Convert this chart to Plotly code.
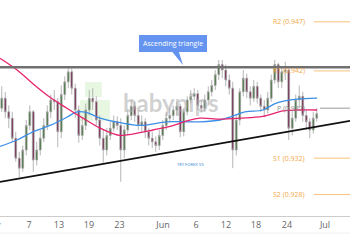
import plotly.graph_objects as go

# ---- data (prices) ----
opens = [.9375,.9386,.9371,.9364,.9342,.9320,.9309,.9329,.9356,.9371,
         .9318,.9329,.9342,.9356,.9371,.9384,.9382,.9349,.9390,.9404,
         .9415,.9397,.9373,.9345,.9356,.9373,.9386,.9382,.9362,.9342,
         .9329,.9345,.9353,.9360,.9356,.9329,.9351,.9367,.9377,.9367,
         .9356,.9360,.9349,.9342,.9338,.9334,.9345,.9356,.9364,.9367,
         .9373,.9377,.9349,.9371,.9384,.9388,.9391,.9378,.9375,.9384,
         .9393,.9400,.9412,.9423,.9417,.9406,.9397,.9329,.9362,.9393,
         .9408,.9393,.9386,.9399,.9386,.9377,.9373,.9386,.9406,.9423,
         .9404,.9415,.9417,.9353,.9364,.9384,.9388,.9367,.9360,.9351,
         .9364]
highs = [.9399,.9393,.9378,.9371,.9349,.9327,.9334,.9362,.9378,.9373,
         .9338,.9351,.9364,.9378,.9390,.9395,.9386,.9400,.9410,.9421,
         .9419,.9402,.9378,.9364,.9380,.9395,.9397,.9388,.9367,.9351,
         .9353,.9360,.9367,.9366,.9364,.9356,.9373,.9384,.9382,.9373,
         .9367,.9364,.9353,.9349,.9344,.9351,.9362,.9371,.9375,.9378,
         .9382,.9380,.9375,.9388,.9395,.9397,.9395,.9384,.9390,.9399,
         .9406,.9417,.9428,.9428,.9423,.9412,.9404,.9367,.9397,.9417,
         .9413,.9399,.9406,.9404,.9390,.9384,.9393,.9412,.9428,.9425,
         .9421,.9426,.9421,.9373,.9390,.9400,.9393,.9373,.9364,.9371,
         .9375]
lows = [.9371,.9364,.9353,.9338,.9316,.9299,.9305,.9323,.9351,.9305,
        .9312,.9323,.9338,.9351,.9364,.9373,.9332,.9342,.9384,.9397,
        .9390,.9364,.9337,.9340,.9351,.9367,.9373,.9356,.9334,.9315,
        .9323,.9340,.9349,.9351,.9294,.9320,.9345,.9362,.9360,.9351,
        .9349,.9342,.9334,.9331,.9327,.9329,.9340,.9351,.9360,.9362,
        .9367,.9343,.9344,.9367,.9380,.9384,.9373,.9370,.9371,.9378,
        .9388,.9395,.9406,.9408,.9399,.9390,.9309,.9323,.9356,.9388,
        .9386,.9378,.9382,.9380,.9371,.9365,.9369,.9382,.9402,.9397,
        .9397,.9406,.9340,.9345,.9360,.9375,.9360,.9351,.9342,.9347,
        .9360]
closes = [.9386,.9371,.9364,.9342,.9320,.9309,.9329,.9356,.9371,.9318,
          .9329,.9342,.9356,.9371,.9384,.9382,.9349,.9390,.9404,.9415,
          .9397,.9373,.9345,.9356,.9373,.9386,.9382,.9362,.9342,.9329,
          .9345,.9353,.9360,.9356,.9329,.9351,.9367,.9377,.9367,.9356,
          .9360,.9349,.9342,.9338,.9334,.9345,.9356,.9364,.9367,.9373,
          .9377,.9349,.9371,.9384,.9388,.9391,.9378,.9375,.9384,.9393,
          .9400,.9412,.9423,.9417,.9406,.9397,.9329,.9362,.9393,.9408,
          .9393,.9386,.9399,.9386,.9377,.9373,.9386,.9406,.9423,.9404,
          .9415,.9417,.9353,.9364,.9384,.9388,.9367,.9360,.9351,.9364,
          .9369]
bars = list(range(len(closes)))

pink_x = [-0.5, 4.4, 8.9, 13.8, 18.6, 23.2, 28.1, 31.8, 33.8, 39.5, 43.2,
          48.1, 52.9, 56.6, 62.4, 68.1, 74.6, 80.4, 85.2, 90.1]
pink_y = [.9430, .9417, .9402, .9387, .9375, .9364, .9353, .9347, .9345, .9348,
          .9351, .9355, .9361, .9364, .9363, .9364, .9366, .9372, .9373, .9373]
blue_x = [-0.5, 4.4, 8.9, 13.8, 18.6, 21.5, 24.4, 28.1, 33.8, 39.5, 47.2,
          52.9, 56.6, 62.4, 65.8, 69.5, 74.6, 78.1, 80.9, 84.4, 90.1]
blue_y = [.9333, .9340, .9349, .9356, .9365, .9371, .9370, .9364, .9359, .9356,
          .9360, .9360, .9360, .9362, .9366, .9371, .9373, .9380, .9383, .9385, .9386]

resistance = 0.9420
trend_x = [-0.5, 99.5]
trend_y = [0.9294, 0.9361]
levels = {"R2": 0.9470, "R1": 0.9416, "P": 0.9375, "S1": 0.9320, "S2": 0.9280}
level_labels = {"R2": "R2 (0.947)", "R1": "R1 (0.942)", "P": "P (0.937)",
                "S1": "S1 (0.932)", "S2": "S2 (0.928)"}

tick_vals = [7.79, 16.36, 24.93, 33.64, 46.07, 55.5, 64.07, 72.64, 81.5, 92.36]
tick_text = ["7", "13", "19", "23", "Jun", "6", "12", "18", "24", "Jul"]

fig = go.Figure()

# watermark logo (green cubes) and text
for (x0, x1, y0, y1) in [(0.243, 0.291, 0.551, 0.620), (0.229, 0.266, 0.440, 0.537),
                         (0.277, 0.314, 0.440, 0.537)]:
    fig.add_shape(type="rect", xref="paper", yref="paper", x0=x0, x1=x1, y0=y0, y1=y1,
                  fillcolor="rgba(175,230,155,0.3)", line=dict(width=0), layer="below")
fig.add_annotation(xref="paper", yref="paper", x=0.489, y=0.525, yanchor="middle",
                   text="<b>babypips</b>", showarrow=False,
                   font=dict(size=24, color="rgba(170,170,170,0.55)", family="Lato"))
fig.add_annotation(xref="paper", yref="paper", x=0.545, y=0.237, yanchor="middle",
                   text="TRY FOREX VS", showarrow=False,
                   font=dict(size=4, color="#4a8fd8", family="Lato"))

fig.add_trace(go.Scatter(x=trend_x, y=trend_y, mode="lines",
                         line=dict(color="#111111", width=1.8), hoverinfo="skip"))
fig.add_trace(go.Candlestick(
    x=bars, open=opens, high=highs, low=lows, close=closes,
    increasing=dict(line=dict(color="#a3a3a3", width=0.8), fillcolor="#3d7034"),
    decreasing=dict(line=dict(color="#a3a3a3", width=0.8), fillcolor="#6e1a45"),
    whiskerwidth=0))
fig.add_trace(go.Scatter(x=blue_x, y=blue_y, mode="lines", line_shape="spline",
                         line=dict(color="#3d8fe6", width=1.3), hoverinfo="skip"))
fig.add_trace(go.Scatter(x=pink_x, y=pink_y, mode="lines", line_shape="spline",
                         line=dict(color="#e6246e", width=1.3), hoverinfo="skip"))

# horizontal resistance
fig.add_shape(type="line", xref="paper", yref="y", x0=0, x1=1, y0=resistance, y1=resistance,
              line=dict(color="#707070", width=2.5))

# pivot levels
for k, v in levels.items():
    col = "#9a9a9a" if k == "P" else "#f9c27a"
    tcol = "#8a8a8a" if k == "P" else "#f3a84a"
    x0 = 0.914 if k == "P" else 0.897
    fig.add_shape(type="line", xref="paper", yref="y", x0=x0, x1=1, y0=v, y1=v,
                  line=dict(color=col, width=1))
    fig.add_annotation(xref="paper", yref="y", x=0.877, y=v, xanchor="right",
                       text=level_labels[k], showarrow=False,
                       font=dict(size=7, color=tcol, family="Open Sans"))

# callout "Ascending triangle": tail + labelled box
fig.add_shape(type="path", xref="paper", yref="paper",
              path="M 0.484,0.775 L 0.523,0.699 L 0.508,0.775 Z",
              fillcolor="#6494f0", line=dict(width=0))
fig.add_annotation(xref="paper", yref="paper", x=0.494, y=0.799, xanchor="center",
                   yanchor="middle", text="Ascending triangle",
                   showarrow=False, bgcolor="#6494f0", bordercolor="#6494f0", borderpad=3,
                   borderwidth=1,
                   font=dict(size=7, color="#ffffff", family="Open Sans"))

# partially visible first month label
fig.add_annotation(xref="paper", yref="paper", x=0.009, y=-0.04, xanchor="right",
                   yanchor="middle", text="May", showarrow=False,
                   font=dict(size=9, color="#666", family="Open Sans"))
fig.add_shape(type="line", xref="paper", yref="paper", x0=0, x1=1, y0=-0.079, y1=-0.079,
              line=dict(color="#f0f0f0", width=1))

fig.update_layout(
    width=350, height=250, margin=dict(l=0, r=0, t=0, b=34),
    paper_bgcolor="white", plot_bgcolor="white", showlegend=False,
    font=dict(family="Open Sans", color="#666"),
    xaxis=dict(range=[-0.5, 99.5], tickvals=tick_vals, ticktext=tick_text,
               showgrid=False, zeroline=False, showline=True, linecolor="#cccccc",
               ticks="", tickfont=dict(size=9, color="#666"), rangeslider=dict(visible=False),
               fixedrange=True),
    yaxis=dict(range=[0.92564, 0.9494], visible=False, showgrid=False, fixedrange=True),
)
fig.write_html("out.html", config={"displayModeBar": False})
